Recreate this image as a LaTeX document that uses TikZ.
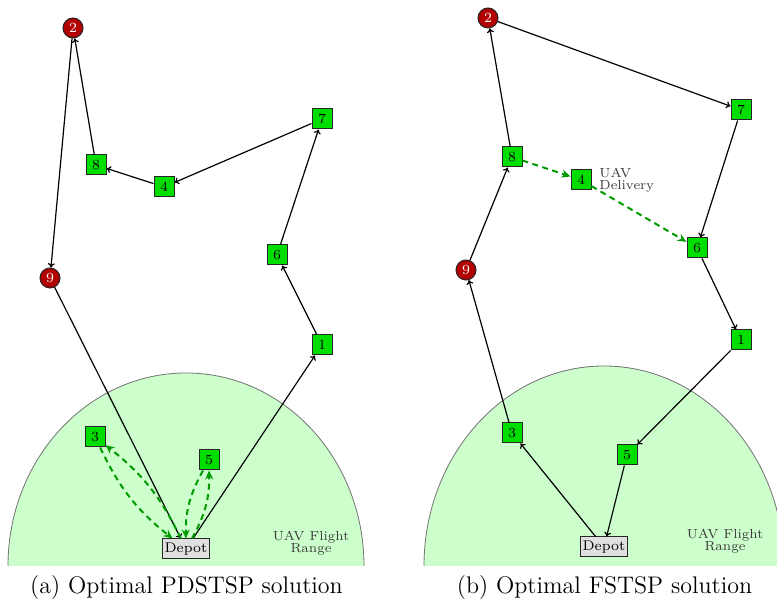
\documentclass[tikz,border=0pt]{standalone}
\usetikzlibrary{arrows.meta}
\definecolor{ngreen}{RGB}{0,222,0}
\definecolor{nred}{RGB}{178,0,0}
\definecolor{rangefill}{RGB}{204,255,204}
\definecolor{dgreen}{RGB}{0,155,0}
\definecolor{lbl}{RGB}{60,60,60}
\tikzset{
  cust/.style={draw=black!85, fill=ngreen, minimum size=10pt, inner sep=0pt, font=\scriptsize, line width=0.5pt},
  vert/.style={circle, draw=black!85, fill=nred, text=white, minimum size=10pt, inner sep=0pt, font=\scriptsize, line width=0.5pt},
  depotbox/.style={draw=black!85, fill=black!12, minimum width=19pt, minimum height=10pt, inner sep=1pt, font=\scriptsize, line width=0.5pt},
  truck/.style={-{To[length=2.2pt,width=3.5pt]}, semithick, black},
  uav/.style={-{Stealth[length=4.5pt,width=4pt,inset=1.5pt]}, dgreen, line width=1pt, dash pattern=on 3pt off 2.2pt},
  lab/.style={font={\fontsize{6.6}{5.9}\selectfont}, text=lbl, inner sep=0pt},
  captext/.style={font=\large, inner sep=0pt}
}
\begin{document}
\begin{tikzpicture}[x=0.5pt, y=-0.5pt]
\useasboundingbox (0,0) rectangle (777,608);
% ranges
\begin{scope}
\clip (0,0) rectangle (777,566);
\fill[rangefill] (8,566) arc[start angle=180, end angle=0, x radius=89pt, y radius=96.5pt] -- cycle;
\draw[black!55, line width=0.4pt] (8,566) arc[start angle=180, end angle=0, x radius=89pt, y radius=96.5pt];
\fill[rangefill] (424,566) arc[start angle=180, end angle=0, x radius=90pt, y radius=100pt] -- cycle;
\draw[black!55, line width=0.4pt] (424,566) arc[start angle=180, end angle=0, x radius=90pt, y radius=100pt];
\end{scope}
\node[lab, align=center] (rangeA) at (311,543) {UAV Flight\\Range};
\node[lab, align=center] (rangeB) at (725,541) {UAV Flight\\Range};

% ---- panel (a)
\node[vert] (a2) at (73,28) {2};
\node[cust] (a8) at (96,165) {8};
\node[cust] (a4) at (164,187) {4};
\node[cust] (a7) at (322,119) {7};
\node[cust] (a6) at (277,255) {6};
\node[vert] (a9) at (50,278) {9};
\node[cust] (a1) at (322,345) {1};
\node[cust] (a3) at (95,437) {3};
\node[cust] (a5) at (209,460) {5};
\node[depotbox] (aD) at (186,549) {Depot};

\draw[truck] (aD) -- (a1);
\draw[truck] (a1) -- (a6);
\draw[truck] (a6) -- (a7);
\draw[truck] (a7) -- (a4);
\draw[truck] (a4) -- (a8);
\draw[truck] (a8) -- (a2);
\draw[truck] (a2) -- (a9);
\draw[truck] (a9) -- (aD);
\draw[uav] (aD) to[bend right=13] (a3);
\draw[uav] (a3) to[bend right=13] (aD);
\draw[uav] (aD) to[bend right=15] (a5);
\draw[uav] (a5) to[bend right=15] (aD);

\node[captext] (capA) at (186.5,588) {(a) Optimal PDSTSP solution};

% ---- panel (b)
\node[vert] (b2) at (488,18) {2};
\node[cust] (b7) at (741,110) {7};
\node[cust] (b8) at (512,157) {8};
\node[cust] (b4) at (581,180) {4};
\node[cust] (b6) at (697,248) {6};
\node[vert] (b9) at (466,270) {9};
\node[cust] (b1) at (741,340) {1};
\node[cust] (b3) at (512,433) {3};
\node[cust] (b5) at (627,455) {5};
\node[depotbox] (bD) at (604,547) {Depot};
\node[lab, align=left, anchor=west] (deliv) at (599,180) {UAV\\Delivery};

\draw[truck] (bD) -- (b3);
\draw[truck] (b3) -- (b9);
\draw[truck] (b9) -- (b8);
\draw[truck] (b8) -- (b2);
\draw[truck] (b2) -- (b7);
\draw[truck] (b7) -- (b6);
\draw[truck] (b6) -- (b1);
\draw[truck] (b1) -- (b5);
\draw[truck] (b5) -- (bD);
\draw[uav] (b8) -- (b4);
\draw[uav] (b4) -- (b6);

\node[captext] (capB) at (604.5,588) {(b) Optimal FSTSP solution};
\end{tikzpicture}
\end{document}
